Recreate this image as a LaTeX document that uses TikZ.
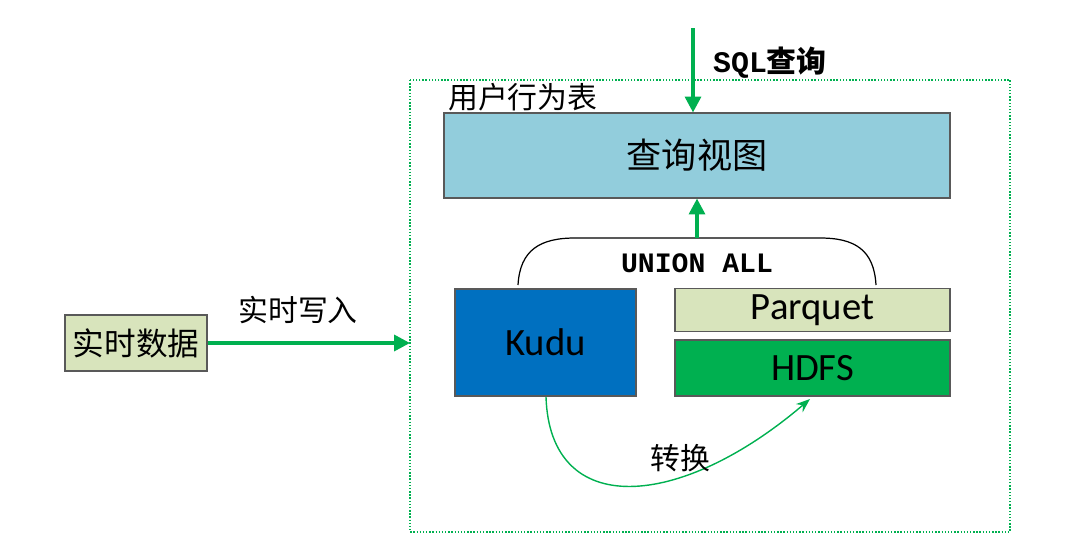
\documentclass[tikz,border=0pt]{standalone}
\usepackage{fontspec}
\setmainfont{Carlito}
\newfontfamily\cjk{Noto Sans CJK SC}
\newfontfamily\mono{Liberation Mono}
\usetikzlibrary{arrows.meta}
\definecolor{gr}{HTML}{00B050}
\definecolor{lb}{HTML}{92CDDC}
\definecolor{ol}{HTML}{D8E4BC}
\definecolor{bl}{HTML}{0070C0}
\begin{document}
\begin{tikzpicture}[x=0.02cm,y=-0.02cm,
 box/.style={draw=gray!70!black,line width=0.6pt},
 garr/.style={draw=gr,line width=2pt,-{Triangle[length=9pt,width=9pt]}},
 lbl/.style={font=\cjk\fontsize{17}{17}\selectfont}]
\useasboundingbox (0,0) rectangle (1085,558);
\draw[gr,densely dotted,line width=0.8pt] (410,80) rectangle (1010,532);
\node[box,fill=lb,minimum width=506*0.02cm,minimum height=85*0.02cm,font=\cjk\fontsize{20}{20}\selectfont] (view) at (697,155.5) {查询视图};
\node[lbl,anchor=west] (tbl) at (442,97) {用户行为表};
\coordinate (sqltop) at (693,28);
\draw[garr] (sqltop) -- (view.north -| sqltop);
\node[font=\mono\bfseries\fontsize{17}{17}\selectfont,anchor=west] (sql) at (707,63) {SQL\cjk 查询};
\node[box,fill=bl,minimum width=181*0.02cm,minimum height=107*0.02cm,font=\fontsize{22}{22}\selectfont] (kudu) at (545.5,342.5) {Kudu};
\node[box,fill=ol,minimum width=275*0.02cm,minimum height=42*0.02cm,font=\fontsize{22}{22}\selectfont] (parq) at (812.5,310) {Parquet};
\node[box,fill=gr,minimum width=275*0.02cm,minimum height=56*0.02cm,font=\fontsize{22}{22}\selectfont] (hdfs) at (812.5,368) {HDFS};
\node[box,fill=ol,minimum width=142*0.02cm,minimum height=56*0.02cm,font=\cjk\fontsize{18}{18}\selectfont] (rt) at (136,343) {实时数据};
\coordinate (bl) at (518,285); \coordinate (br) at (876,285);
\draw[black,line width=0.7pt] (bl) .. controls (520,250) and (540,238) .. (575,238) -- (820,238) .. controls (855,238) and (874,250) .. (br);
\coordinate (ub) at (697,238);
\draw[garr] (ub) -- (view.south -| ub);
\node[font=\mono\bfseries\fontsize{16}{16}\selectfont] (union) at (697,263) {UNION ALL};
\coordinate (dock) at (410,343);
\draw[garr] (rt.east) -- (dock);
\node[lbl] (wr) at (298,310) {实时写入};
\draw[gr,line width=0.8pt,-{Stealth[length=8pt]}] (546,397) .. controls (550,520) and (680,510) .. (810,399);
\node[lbl] (conv) at (680,458) {转换};
\end{tikzpicture}
\end{document}
